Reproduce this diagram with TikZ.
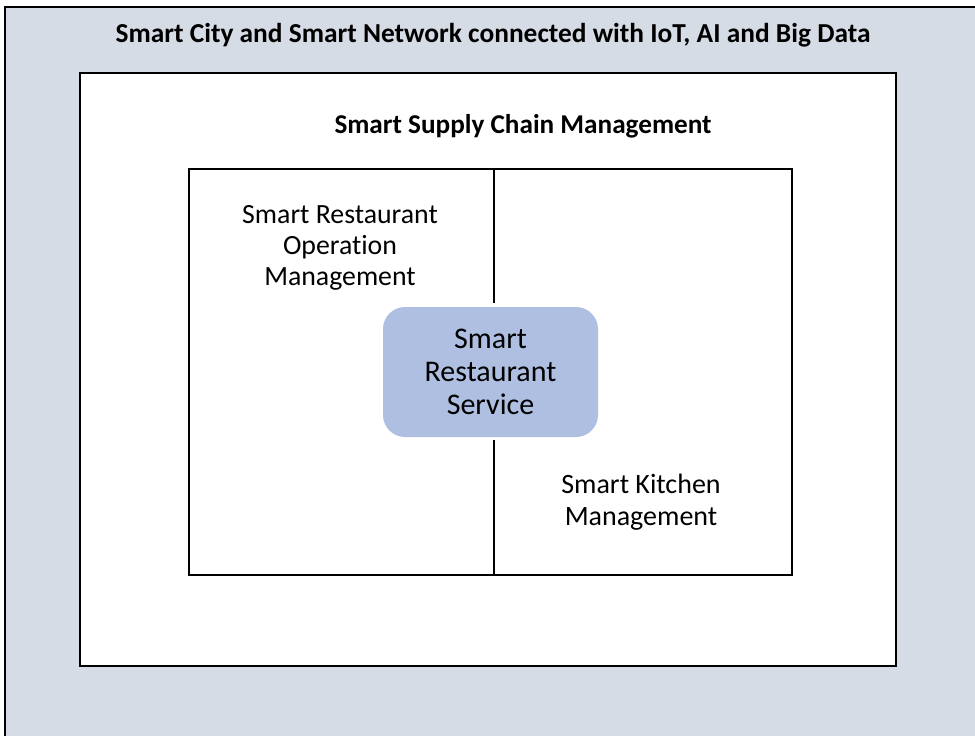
\documentclass[tikz,border=0pt]{standalone}
\usepackage{fontspec}
\setmainfont{Carlito}[Ligatures={NoCommon}]
\definecolor{outerfill}{HTML}{D6DCE5}
\definecolor{srvfill}{HTML}{AFBFE1}
\tikzset{
  frame/.style={draw=black, line width=2pt},
  label/.style={inner sep=0pt, align=center, anchor=base},
  srvbox/.style={draw=none, fill=srvfill, rounded corners=22pt, minimum width=215pt, minimum height=130pt, inner sep=0pt, align=center}
}
\begin{document}
\begin{tikzpicture}[x=1pt,y=-1pt]
\useasboundingbox (0,0) rectangle (975,736);
\clip (0,0) rectangle (975,736);
% outer box
\draw[frame, line width=2.5pt, fill=outerfill] (5,7) rectangle (990,752);
% middle box
\draw[frame, fill=white] (80,73) rectangle (896,666);
% inner box
\node[frame, minimum width=603pt, minimum height=406pt, inner sep=0pt] (inner) at (490.5,372) {};
% central service
\node[srvbox, font=\fontsize{30}{33}\selectfont] (srv) at (490.5,372) {Smart\\Restaurant\\Service};
\coordinate (dtop) at (494,169);
\coordinate (dbot) at (494,575);
\coordinate (dtopend) at (494,303);
\coordinate (dbotstart) at (494,440);
\draw[line width=1.6pt] (dtop) -- (dtopend);
\draw[line width=1.6pt] (dbotstart) -- (dbot);
% texts
\node[label, font=\bfseries\fontsize{27.4}{31}\selectfont] (title) at (493,42) {Smart City and Smart Network connected with IoT, AI and Big Data};
\node[label, font=\bfseries\fontsize{27.2}{31}\selectfont] (scm) at (523,133) {Smart Supply Chain Management};
\node[label, font=\fontsize{27.8}{31}\selectfont] (op) at (340,285) {Smart Restaurant\\Operation\\Management};
\node[label, font=\fontsize{28}{32}\selectfont] (kit) at (641,525) {Smart Kitchen\\Management};
\end{tikzpicture}
\end{document}
